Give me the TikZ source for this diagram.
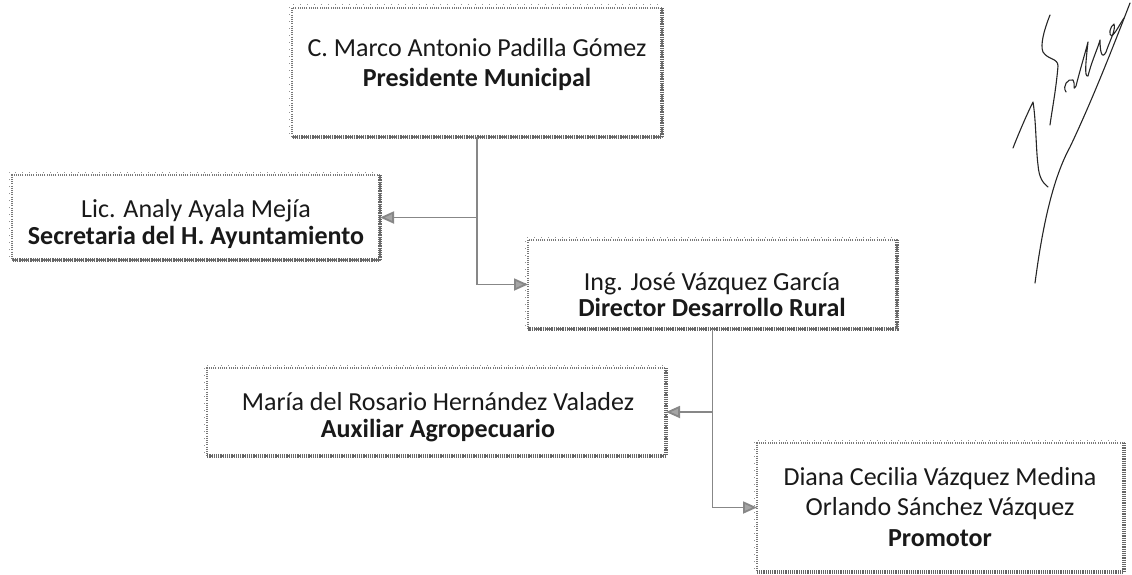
\documentclass[tikz,border=0pt]{standalone}
\usepackage{fontspec}
\setmainfont{Carlito}
\usetikzlibrary{arrows.meta}
\definecolor{ink}{RGB}{25,25,25}
\definecolor{edge}{RGB}{120,120,120}
\definecolor{conncol}{RGB}{135,135,135}
\begin{document}
\begin{tikzpicture}[x=1pt,y=-1pt,
  box/.style={draw=edge, line width=1.1pt, dash pattern=on 1pt off 1.2pt, fill=white, inner sep=0pt, outer sep=0pt, rectangle},
  shade edge/.style={draw=edge!85!black, line width=3.5pt, dash pattern=on 1.2pt off 1pt},
  fringe/.style={draw=edge!80, line width=1pt, dash pattern=on 1pt off 6pt},
  conn/.style={draw=conncol, line width=1.8pt, -{Triangle[length=14pt,width=12pt,color=conncol,fill=conncol!75]}},
  txt/.style={anchor=base, inner sep=0pt, text=ink, font=\fontsize{26}{30}\selectfont},
  btxt/.style={txt, font=\fontsize{26}{30}\selectfont\bfseries},
  sig/.style={draw=black!85, line width=1.1pt, line cap=round, line join=round}]
\useasboundingbox (0,0) rectangle (1132,575);
% boxes
\node[box, minimum width=370pt, minimum height=129pt] (pres) at (477,72.5) {};
\node[box, minimum width=368pt, minimum height=85pt] (sec) at (196,217.5) {};
\node[box, minimum width=369pt, minimum height=89pt] (dir) at (712.5,284.5) {};
\node[box, minimum width=459pt, minimum height=88pt] (aux) at (436.5,412) {};
\node[box, minimum width=367pt, minimum height=129pt] (pro) at (940.5,507.5) {};
% shaded right/bottom edges and dotted fringe on top/left
\foreach \b in {pres,sec,dir,aux,pro}{
  \draw[shade edge] (\b.north east) -- (\b.south east) -- (\b.south west);
  \draw[fringe] ([shift={(-3,-3)}]\b.south west) -- ([shift={(-3,-3)}]\b.north west) -- ([shift={(-3,-3)}]\b.north east);
}
% texts
\node[txt] (t1a) at (477,57) {C. Marco Antonio Padilla Gómez};
\node[btxt] (t1b) at (477,87) {Presidente Municipal};
\node[txt] (t2a) at (196,217) {Lic. Analy Ayala Mejía};
\node[btxt] (t2b) at (196,244) {Secretaria del H. Ayuntamiento};
\node[txt] (t3a) at (712,290) {Ing. José Vázquez García};
\node[btxt] (t3b) at (712,316) {Director Desarrollo Rural};
\node[txt] (t4a) at (438,410) {María del Rosario Hernández Valadez};
\node[btxt] (t4b) at (438,437) {Auxiliar Agropecuario};
\node[txt] (t5a) at (940,485) {Diana Cecilia Vázquez Medina};
\node[txt] (t5b) at (940,515) {Orlando Sánchez Vázquez};
\node[btxt] (t5c) at (940,546) {Promotor};
% connectors
\draw[conn] (pres.south) |- (dir.west);
\draw[conn] (pres.south |- sec.east) -- (sec.east);
\draw[conn] (dir.south) |- (pro.west);
\draw[conn] (dir.south |- aux.east) -- (aux.east);
% signature
\draw[sig] (1050,15) .. controls (1044,30) and (1040,45) .. (1043,52) .. controls (1048,60) and (1058,58) .. (1058,66) .. controls (1056,90) and (1052,110) .. (1050,125);
\draw[sig] (1013,148) .. controls (1020,130) and (1028,112) .. (1033,102) .. controls (1036,120) and (1036,150) .. (1038,165) .. controls (1039,178) and (1043,183) .. (1048,187);
\draw[sig] (1035,283) .. controls (1042,230) and (1052,180) .. (1070,147) .. controls (1090,105) and (1110,55) .. (1130,3);
\draw[sig] (1066,92) .. controls (1062,86) and (1068,78) .. (1073,80) .. controls (1076,84) and (1072,92) .. (1076,86) .. controls (1080,70) and (1086,50) .. (1088,42) .. controls (1086,60) and (1084,78) .. (1088,76) .. controls (1092,60) and (1098,48) .. (1100,40) .. controls (1100,52) and (1102,60) .. (1106,52) .. controls (1110,40) and (1116,30) .. (1114,24) .. controls (1110,26) and (1108,36) .. (1112,36) .. controls (1116,32) and (1120,24) .. (1124,18);
\end{tikzpicture}
\end{document}
